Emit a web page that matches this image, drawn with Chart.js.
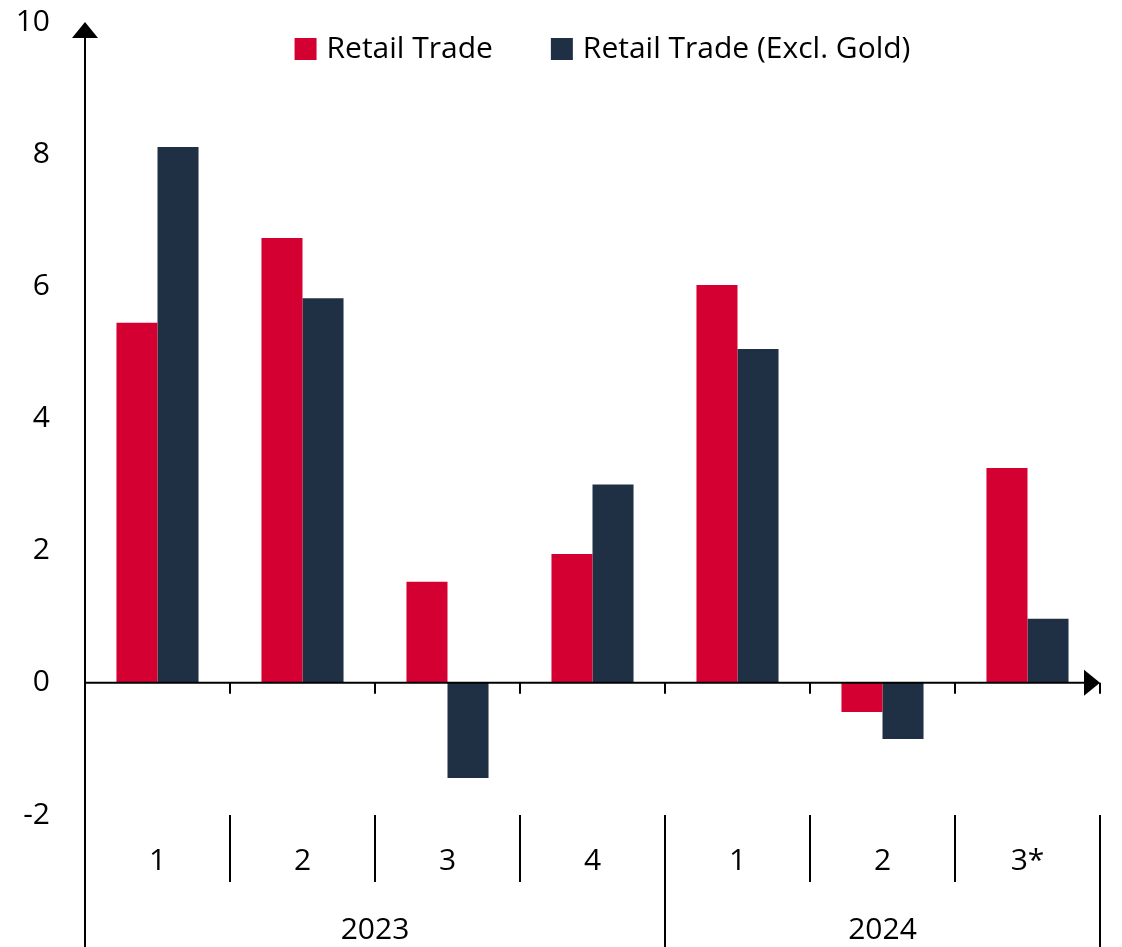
<!DOCTYPE html>
<html>
<head>
<meta charset="utf-8">
<script src="https://cdn.jsdelivr.net/npm/chart.js@4.4.1/dist/chart.umd.min.js"></script>
<style>
  html, body { margin: 0; padding: 0; background: #fff; }
  #wrap { width: 1122px; height: 947px; }
</style>
</head>
<body>
<div id="wrap"><canvas id="retailChart"></canvas></div>
<script>
// Chart data
const quarters = ['1', '2', '3', '4', '1', '2', '3*'];
const years = ['2023', '2024'];
const yearSpans = [4, 3];
const retailTrade = [5.45, 6.73, 1.53, 1.95, 6.02, -0.44, 3.25];
const retailExclGold = [8.11, 5.82, -1.44, 3.0, 5.05, -0.85, 0.97];
const yTicks = [-2, 0, 2, 4, 6, 8, 10];

const FONT = '"Open Sans", "Noto Sans", sans-serif';
const FONT_SIZE = 30;

// Legend drawn inside the plot area, centred near the top
const legendPlugin = {
    id: 'legendPlugin',
    afterDraw(chart) {
        const ctx = chart.ctx;
        const area = chart.chartArea;
        const sets = chart.data.datasets;
        const box = 22, gapText = 10, gapItem = 58;
        ctx.save();
        ctx.font = FONT_SIZE + 'px ' + FONT;
        ctx.textBaseline = 'middle';
        ctx.textAlign = 'left';
        const widths = sets.map(d => box + gapText + ctx.measureText(d.label).width);
        const total = widths.reduce((a, b) => a + b, 0) + gapItem * (sets.length - 1);
        let cx = (area.left + area.right) / 2 + 10 - total / 2;
        const cy = area.top + 27;
        sets.forEach((d, i) => {
            ctx.fillStyle = d.backgroundColor;
            ctx.fillRect(cx, cy - box / 2, box, box);
            ctx.fillStyle = '#000';
            ctx.fillText(d.label, cx + box + gapText, cy);
            cx += widths[i] + gapItem;
        });
        ctx.restore();
    }
};

// Axes, arrows, separators and year labels
const axisPlugin = {
    id: 'axisPlugin',
    afterDraw(chart) {
        const ctx = chart.ctx;
        const area = chart.chartArea;
        const x = chart.scales.x;
        const y = chart.scales.y;
        const y0 = y.getPixelForValue(0);
        const half = (x.getPixelForValue(1) - x.getPixelForValue(0)) / 2;
        const bottom = chart.height;

        ctx.save();
        ctx.strokeStyle = '#000';
        ctx.fillStyle = '#000';
        ctx.lineWidth = 2;

        // y axis line
        ctx.beginPath();
        ctx.moveTo(area.left, area.top + 12);
        ctx.lineTo(area.left, bottom);
        ctx.stroke();
        // y arrow
        ctx.beginPath();
        ctx.moveTo(area.left, area.top);
        ctx.lineTo(area.left - 13, area.top + 16);
        ctx.lineTo(area.left + 13, area.top + 16);
        ctx.closePath();
        ctx.fill();

        // x axis line at zero
        ctx.beginPath();
        ctx.moveTo(area.left, y0);
        ctx.lineTo(area.right - 12, y0);
        ctx.stroke();
        // x arrow
        ctx.beginPath();
        ctx.moveTo(area.right, y0);
        ctx.lineTo(area.right - 16, y0 - 13);
        ctx.lineTo(area.right - 16, y0 + 13);
        ctx.closePath();
        ctx.fill();

        // small ticks and separators between categories
        let groupEnds = [];
        let acc = 0;
        yearSpans.forEach(n => { acc += n; groupEnds.push(acc - 1); });
        for (let i = 0; i < quarters.length; i++) {
            const bx = Math.round(x.getPixelForValue(i) + half);
            ctx.beginPath();
            ctx.moveTo(bx, y0);
            ctx.lineTo(bx, y0 + 11);
            ctx.stroke();
            const isGroupEnd = groupEnds.includes(i);
            ctx.beginPath();
            ctx.moveTo(bx, area.bottom);
            ctx.lineTo(bx, isGroupEnd ? bottom : area.bottom + 67);
            ctx.stroke();
        }

        // year labels
        ctx.font = FONT_SIZE + 'px ' + FONT;
        ctx.textAlign = 'center';
        ctx.textBaseline = 'middle';
        let start = 0;
        years.forEach((yr, k) => {
            const end = start + yearSpans[k] - 1;
            const left = x.getPixelForValue(start) - half;
            const right = x.getPixelForValue(end) + half;
            ctx.fillText(yr, (left + right) / 2, area.bottom + 115);
            start = end + 1;
        });
        ctx.restore();
    }
};

function createRetailChart() {
    const ctx = document.getElementById('retailChart');
    new Chart(ctx, {
        type: 'bar',
        data: {
            labels: quarters,
            datasets: [{
                label: 'Retail Trade',
                data: retailTrade,
                backgroundColor: '#D50032',
                borderWidth: 0
            }, {
                label: 'Retail Trade (Excl. Gold)',
                data: retailExclGold,
                backgroundColor: '#1F3045',
                borderWidth: 0
            }]
        },
        options: {
            responsive: true,
            maintainAspectRatio: false,
            animation: false,
            layout: {
                padding: { top: 22, right: 22, bottom: 66, left: 0 }
            },
            datasets: {
                bar: { categoryPercentage: 0.566, barPercentage: 1.0 }
            },
            plugins: {
                legend: { display: false },
                tooltip: { enabled: false }
            },
            scales: {
                x: {
                    grid: { display: false, drawTicks: false },
                    border: { display: false },
                    ticks: {
                        font: { family: FONT, size: FONT_SIZE },
                        color: '#000',
                        padding: 28,
                        maxRotation: 0
                    },
                    afterFit: scale => { scale.height = 66; }
                },
                y: {
                    min: -2,
                    max: 10,
                    afterBuildTicks: scale => {
                        scale.ticks = yTicks.map(v => ({ value: v }));
                    },
                    afterFit: scale => {
                        scale.width = 85;
                        scale.paddingTop = 0;
                        scale.paddingBottom = 0;
                    },
                    grid: { display: false, drawTicks: false },
                    border: { display: false },
                    ticks: {
                        font: { family: FONT, size: FONT_SIZE },
                        color: '#000',
                        padding: 35
                    }
                }
            }
        },
        plugins: [axisPlugin, legendPlugin]
    });
}

document.addEventListener('DOMContentLoaded', createRetailChart);
</script>
</body>
</html>
